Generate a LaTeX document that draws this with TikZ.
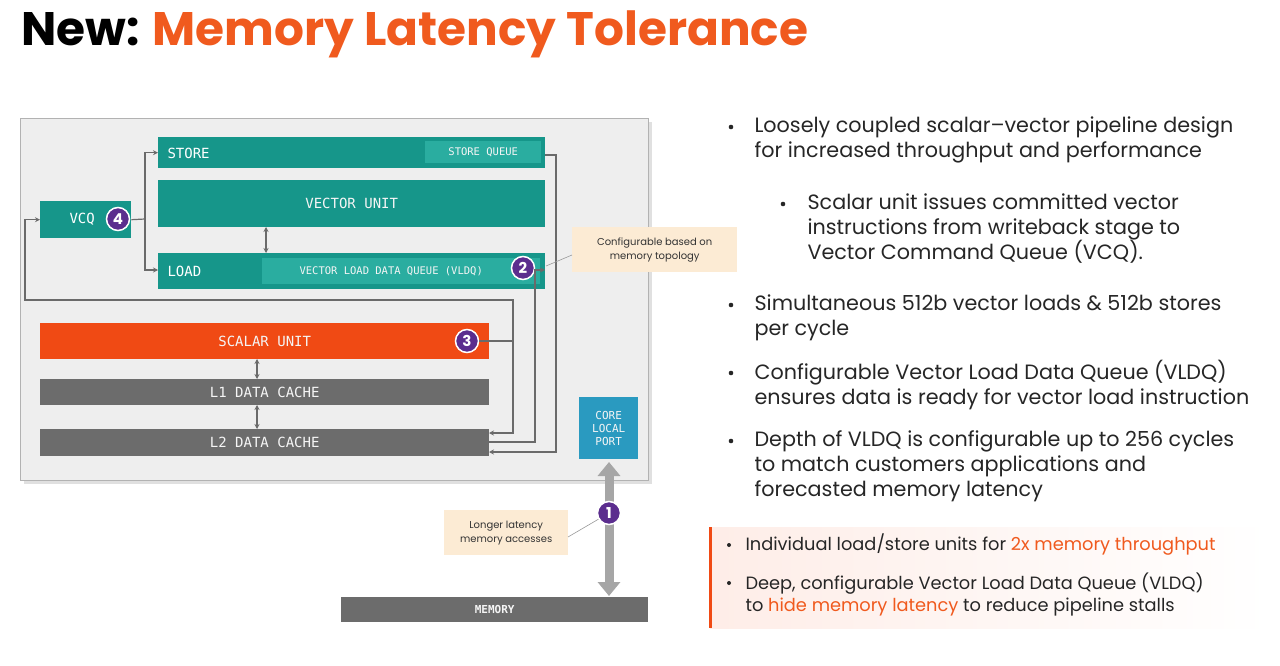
\documentclass[tikz,border=0pt]{standalone}
\usepackage{fontspec}
\setmainfont{Poppins}
\newfontfamily\dfont{DejaVu Sans Mono}
\usetikzlibrary{arrows.meta}
\definecolor{teal1}{HTML}{16968A}
\definecolor{teal2}{HTML}{2AADA0}
\definecolor{orng}{HTML}{F04A14}
\definecolor{titleor}{HTML}{F05A1E}
\definecolor{grayb}{HTML}{6C6C6C}
\definecolor{blu}{HTML}{2A9AC0}
\definecolor{purp}{HTML}{5B2D8E}
\definecolor{panel}{HTML}{EEEEEE}
\definecolor{callbg}{HTML}{FCEBD4}
\definecolor{conn}{HTML}{6A6A6A}
\begin{document}
\begin{tikzpicture}[x=1pt,y=-1pt,
  blk/.style={draw=none,inner sep=0pt,font=\dfont\fontsize{14}{15}\selectfont,text=white!92!gray},
  badge/.style={circle,fill=purp,draw=white,line width=1.5pt,minimum size=23pt,inner sep=0pt,text=white,font=\bfseries\fontsize{15}{15}\selectfont},
  call/.style={fill=callbg,inner sep=3pt,align=center,font=\fontsize{10}{14}\selectfont,text=black!80},
  cn/.style={draw=conn,line width=1.2pt,-{Stealth[length=5pt,width=5pt]}},
  dbl/.style={draw=conn,line width=1.2pt,{Stealth[length=5pt,width=5pt]}-{Stealth[length=5pt,width=5pt]}},
  bul/.style={anchor=west,font=\fontsize{20.7}{25}\selectfont,align=left,text=black!85},
  bul2/.style={anchor=west,font=\fontsize{17.8}{22}\selectfont,align=left,text=black!85}]
\useasboundingbox (0,0) rectangle (1280,666);
\fill[white] (0,0) rectangle (1280,666);
% title
\node[anchor=west,font=\bfseries\fontsize{47}{52}\selectfont,inner sep=0pt] (title) at (21,34) {New: \textcolor{titleor}{Memory Latency Tolerance}};
% panel
\fill[black!12] (24,122) rectangle (652,484);
\node[draw=black!30,fill=panel,minimum width=628pt,minimum height=362pt,anchor=north west,inner sep=0pt] (panel) at (20,118) {};
% blocks
\node[blk,fill=teal1,minimum width=387pt,minimum height=31pt,anchor=north west] (store) at (158,137) {};
\node[anchor=west,font=\dfont\fontsize{14}{15}\selectfont,text=white] at (164,153) {STORE};
\node[blk,fill=teal2,minimum width=116pt,minimum height=22pt,anchor=north west,font=\dfont\fontsize{10.5}{12}\selectfont] (sq) at (425,141) {STORE QUEUE};
\node[blk,fill=teal1,minimum width=387pt,minimum height=47pt,anchor=north west] (vu) at (158,180) {VECTOR UNIT};
\node[blk,fill=teal1,minimum width=387pt,minimum height=36pt,anchor=north west] (load) at (158,253) {};
\node[anchor=west,font=\dfont\fontsize{14}{15}\selectfont,text=white] at (164,271) {LOAD};
\node[blk,fill=teal2,minimum width=278pt,minimum height=26pt,anchor=north west,font=\dfont\fontsize{10.5}{12}\selectfont] (vldq) at (262,258) {\hspace*{-20pt}VECTOR LOAD DATA QUEUE (VLDQ)};
\node[blk,fill=teal1,minimum width=91pt,minimum height=37pt,anchor=north west] (vcq) at (40,201) {};
\node[anchor=west,font=\dfont\fontsize{14}{15}\selectfont,text=white] at (66,219) {VCQ};
\node[badge] (b4) at (118,219) {4};
\node[badge] (b2) at (523,268) {2};
\node[blk,fill=orng,minimum width=449pt,minimum height=36pt,anchor=north west] (scalar) at (40,323) {SCALAR UNIT};
\node[badge] (b3) at (467,341) {3};
\node[blk,fill=grayb,minimum width=449pt,minimum height=26pt,anchor=north west] (l1) at (40,379) {L1 DATA CACHE};
\node[blk,fill=grayb,minimum width=449pt,minimum height=27pt,anchor=north west] (l2) at (40,429) {L2 DATA CACHE};
\node[blk,fill=blu,minimum width=59pt,minimum height=62pt,anchor=north west,align=center,font=\dfont\fontsize{11}{13}\selectfont] (clp) at (579,397) {CORE\\LOCAL\\PORT};
\node[blk,fill=grayb,minimum width=307pt,minimum height=25pt,anchor=north west,font=\dfont\bfseries\fontsize{11}{12}\selectfont] (mem) at (341,597) {MEMORY};
% connectors
\coordinate (vj) at (145,219);
\draw[draw=conn,line width=1.2pt] (vcq.east) -- (vj);
\draw[cn] (vj) |- (store.west);
\draw[cn] (vj) |- (load.west |- 0,270);
\draw[dbl] (266,227) -- (266,253);
\draw[dbl] (257,359) -- (257,379);
\draw[dbl] (257,405) -- (257,429);
\coordinate (sj) at (513,300);
\draw[cn] (b3.east) -- (513,341) |- (489,433);
\draw[cn] (513,341) -- (sj) -- (25,300) |- (vcq.west);
\draw[cn] (489,442) -- (535,442) |- (545,270);
\draw[cn] (545,155) -- (556,155) |- (489,452);
% big arrow
\draw[black!35,line width=9pt,{Triangle[length=14pt,width=22pt]}-{Triangle[length=14pt,width=22pt]}] (609,462) -- (609,596);
\node[badge] (b1) at (609,513) {1};
% callouts
\node[call,minimum width=165pt,minimum height=45pt,anchor=north west] (c2) at (572,227) {Configurable based on\\memory topology};
\draw[black!40,line width=0.6pt] (c2.west |- 0,255) -- (546,266);
\node[call,minimum width=124pt,minimum height=45pt,anchor=north west] (c1) at (444,510) {Longer latency\\memory accesses};
\draw[black!40,line width=0.6pt] (568,537) -- (b1);
% right text
\foreach \y in {127,305,373,441} \fill[black!85] (731,\y) circle (2.3pt);
\fill[black!85] (783,204) circle (2.3pt);
\node[bul] (t1) at (751,140) {Loosely coupled scalar–vector pipeline design\\for increased throughput and performance};
\node[bul] (t2) at (804,229) {Scalar unit issues committed vector\\instructions from writeback stage to\\Vector Command Queue (VCQ).};
\node[bul] (t3) at (751,318) {Simultaneous 512b vector loads \& 512b stores\\per cycle};
\node[bul] (t4) at (751,385) {Configurable Vector Load Data Queue (VLDQ)\\ensures data is ready for vector load instruction};
\node[bul] (t5) at (751,466) {Depth of VLDQ is configurable up to 256 cycles\\to match customers applications and\\forecasted memory latency};
% box
\shade[left color=orng!10,right color=white] (710,527) rectangle (1270,628);
\fill[orng] (709,527) rectangle (712,628);
\fill[black!85] (729,545) circle (2pt);
\fill[black!85] (729,583) circle (2pt);
\node[bul2] (t6) at (742,545) {Individual load/store units for \textcolor{titleor}{2x memory throughput}};
\node[bul2] (t7) at (742,594) {Deep, configurable Vector Load Data Queue (VLDQ)\\to \textcolor{titleor}{hide memory latency} to reduce pipeline stalls};
\end{tikzpicture}
\end{document}
